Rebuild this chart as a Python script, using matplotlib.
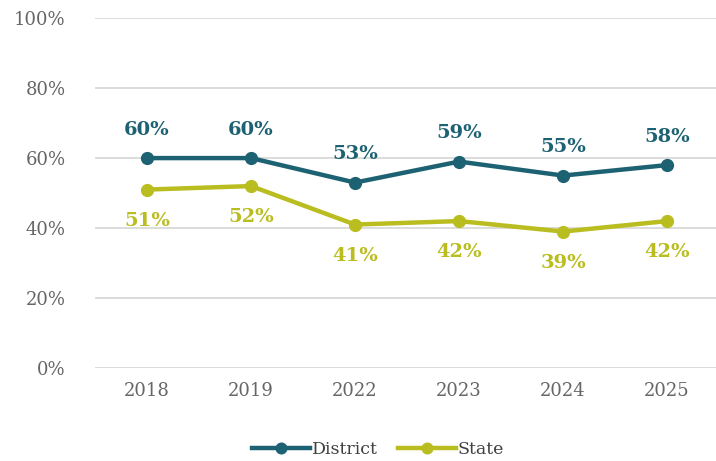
import matplotlib
matplotlib.use('Agg')
import matplotlib.pyplot as plt

# data
years = ['2018', '2019', '2022', '2023', '2024', '2025']
district = [60, 60, 53, 59, 55, 58]
state = [51, 52, 41, 42, 39, 42]

teal = '#1d6272'
olive = '#b9bd1f'

plt.rcParams['font.family'] = ['DejaVu Serif']

fig = plt.figure(figsize=(7.16, 4.61), dpi=100)
ax = fig.add_axes([0.1327, 0.2017, 0.8673, 0.759])

x = range(len(years))
ax.plot(x, district, color=teal, lw=3.2, marker='o', ms=8.5, label='District', zorder=3)
ax.plot(x, state, color=olive, lw=3.2, marker='o', ms=8.5, label='State', zorder=3)

# value labels
for i in x:
    ax.annotate(f'{district[i]}%', (i, district[i]), xytext=(0, 14), textcoords='offset points',
                ha='center', va='bottom', color=teal, fontsize=14, fontweight='bold')
    ax.annotate(f'{state[i]}%', (i, state[i]), xytext=(0, -16), textcoords='offset points',
                ha='center', va='top', color=olive, fontsize=14, fontweight='bold')

ax.set_ylim(0, 100)
ax.set_xlim(-0.5, 5.47)
ax.set_yticks(range(0, 101, 20))
ax.set_yticklabels([f'{v}%' for v in range(0, 101, 20)])
ax.set_xticks(list(x))
ax.set_xticklabels(years)
ax.tick_params(length=0, labelsize=13, colors='#666666')
ax.tick_params(axis='y', pad=21)
ax.tick_params(axis='x', pad=10)
ax.grid(axis='y', color='#dcdcdc', lw=1.4)
ax.set_axisbelow(True)
for s in ax.spines.values():
    s.set_visible(False)

fig.legend(loc='center', bbox_to_anchor=(0.528, 0.025), ncol=2, frameon=False,
           fontsize=12.5, handlelength=3.3, handletextpad=0.1, columnspacing=1.2,
           labelcolor='#404040', markerscale=0.9)

plt.savefig('out.png', dpi=100)
